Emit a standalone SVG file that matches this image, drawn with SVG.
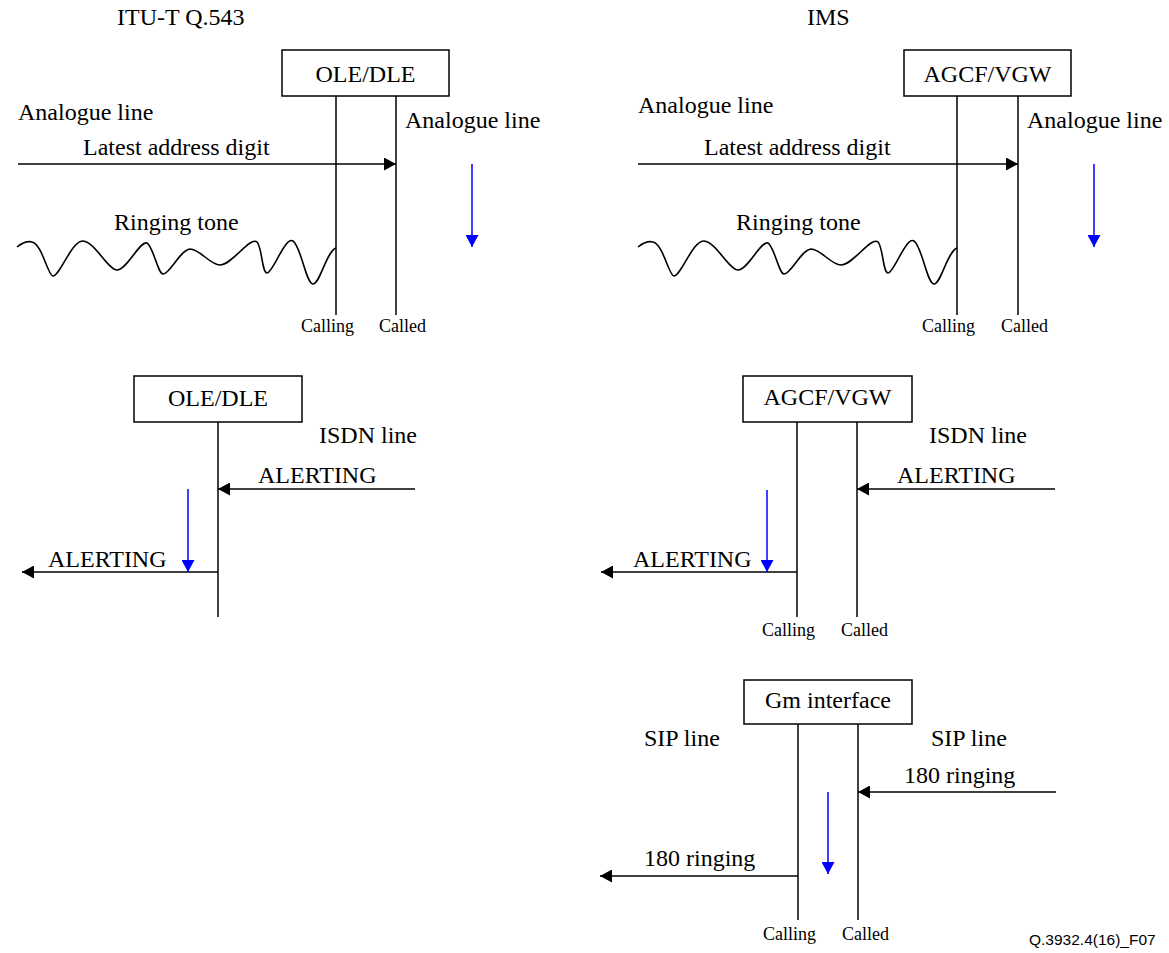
<svg xmlns="http://www.w3.org/2000/svg" width="1169" height="953" viewBox="0 0 1169 953">
  <style>
    .lbl { font-family: "Liberation Serif", "Times New Roman", serif; font-size: 24px; fill: #000; }
    .small { font-family: "Liberation Serif", "Times New Roman", serif; font-size: 18px; fill: #000; }
    .fig { font-family: "Liberation Sans", Arial, sans-serif; font-size: 15.5px; fill: #000; }
    .box { fill: #fff; stroke: #000; stroke-width: 1.5; }
    .life { stroke: #000; stroke-width: 1.5; fill: none; }
    .msg { stroke: #000; stroke-width: 1.5; fill: none; marker-end: url(#headBlack); }
    .flow { stroke: #0000ff; stroke-width: 1.5; fill: none; marker-end: url(#headBlue); }
    .wave { stroke: #000; stroke-width: 1.6; fill: none; }
  </style>
  <defs>
    <marker id="headBlack" viewBox="0 0 12 13" refX="12" refY="6.5" markerWidth="12" markerHeight="13" markerUnits="userSpaceOnUse" orient="auto">
      <path d="M0,0 L12,6.5 L0,13 Z" fill="#000"/>
    </marker>
    <marker id="headBlue" viewBox="0 0 12 13" refX="12" refY="6.5" markerWidth="12" markerHeight="13" markerUnits="userSpaceOnUse" orient="auto">
      <path d="M0,0 L12,6.5 L0,13 Z" fill="#0000ff"/>
    </marker>
    <path id="ringWave" d="M0,0 C5,-4 11,-6 15,-5 C25,-3 31,29 36,29 C43,29 55,-7 66,-6 C78,-5 91,23 100,23 C110,23 123,-7 130,-4 C136,-1 141,27 146,27 C153,27 163,3 173,2 C183,2 193,18 203,18 C215,18 233,-11 240,-5 C245,0 245,26 250,26 C256,26 268,-11 276,-6 C284,-1 289,37 296,37 C303,37 309,5 319,1"/>
  </defs>

  <!-- column headings -->
  <text class="lbl" x="117" y="25">ITU-T Q.543</text>
  <text class="lbl" x="807" y="25">IMS</text>

  <!-- ===== Analogue line, OLE/DLE ===== -->
  <g id="ole-dle-analogue">
    <rect class="box" x="282" y="50" width="167" height="46"/>
    <text class="lbl" x="365.5" y="82" text-anchor="middle">OLE/DLE</text>
    <line class="life" x1="336" y1="96" x2="336" y2="315"/>
    <line class="life" x1="396" y1="96" x2="396" y2="315"/>
    <text class="small" x="301" y="332">Calling</text>
    <text class="small" x="379" y="332">Called</text>
  </g>
  <text class="lbl" x="18" y="120">Analogue line</text>
  <text class="lbl" x="405" y="128">Analogue line</text>
  <text class="lbl" x="83" y="155">Latest address digit</text>
  <text class="lbl" x="114" y="230">Ringing tone</text>

  <!-- ===== Analogue line, AGCF/VGW ===== -->
  <g id="agcf-vgw-analogue">
    <rect class="box" x="904" y="50" width="167" height="46"/>
    <text class="lbl" x="987.5" y="82" text-anchor="middle">AGCF/VGW</text>
    <line class="life" x1="957" y1="96" x2="957" y2="315"/>
    <line class="life" x1="1018" y1="96" x2="1018" y2="315"/>
    <text class="small" x="922" y="332">Calling</text>
    <text class="small" x="1001" y="332">Called</text>
  </g>
  <text class="lbl" x="638" y="113">Analogue line</text>
  <text class="lbl" x="1027" y="128">Analogue line</text>
  <text class="lbl" x="704" y="155">Latest address digit</text>
  <text class="lbl" x="736" y="230">Ringing tone</text>

  <!-- ===== ISDN line, OLE/DLE ===== -->
  <g id="ole-dle-isdn">
    <rect class="box" x="134" y="376" width="168" height="46"/>
    <text class="lbl" x="218" y="406" text-anchor="middle">OLE/DLE</text>
    <line class="life" x1="218" y1="422" x2="218" y2="617"/>
  </g>
  <text class="lbl" x="319" y="443">ISDN line</text>
  <text class="lbl" x="258" y="483">ALERTING</text>
  <text class="lbl" x="48" y="567">ALERTING</text>

  <!-- ===== ISDN line, AGCF/VGW ===== -->
  <g id="agcf-vgw-isdn">
    <rect class="box" x="743" y="376" width="169" height="46"/>
    <text class="lbl" x="827.5" y="405" text-anchor="middle">AGCF/VGW</text>
    <line class="life" x1="797" y1="422" x2="797" y2="617"/>
    <line class="life" x1="857" y1="422" x2="857" y2="617"/>
    <text class="small" x="762" y="636">Calling</text>
    <text class="small" x="841" y="636">Called</text>
  </g>
  <text class="lbl" x="929" y="443">ISDN line</text>
  <text class="lbl" x="897" y="483">ALERTING</text>
  <text class="lbl" x="633" y="567">ALERTING</text>

  <!-- ===== SIP line, Gm interface ===== -->
  <g id="gm-interface">
    <rect class="box" x="744" y="680" width="168" height="44"/>
    <text class="lbl" x="828" y="708" text-anchor="middle">Gm interface</text>
    <line class="life" x1="798" y1="724" x2="798" y2="920"/>
    <line class="life" x1="858" y1="724" x2="858" y2="920"/>
    <text class="small" x="763" y="940">Calling</text>
    <text class="small" x="842" y="940">Called</text>
  </g>
  <text class="lbl" x="644" y="746">SIP line</text>
  <text class="lbl" x="931" y="746">SIP line</text>
  <text class="lbl" x="904" y="783">180 ringing</text>
  <text class="lbl" x="644" y="866">180 ringing</text>

  <!-- connectors -->
  <g id="connectors">
    <!-- digit messages -->
    <line class="msg" x1="18" y1="164" x2="396" y2="164"/>
    <line class="msg" x1="638" y1="164" x2="1018" y2="164"/>
    <!-- ringing tone towards calling side -->
    <use href="#ringWave" class="wave" x="17" y="247"/>
    <use href="#ringWave" class="wave" x="638" y="247"/>
    <!-- ISDN alerting -->
    <line class="msg" x1="415" y1="489" x2="218" y2="489"/>
    <line class="msg" x1="218" y1="572" x2="22" y2="572"/>
    <line class="msg" x1="1055" y1="489" x2="857" y2="489"/>
    <line class="msg" x1="797" y1="572" x2="601" y2="572"/>
    <!-- SIP 180 ringing -->
    <line class="msg" x1="1056" y1="792" x2="858" y2="792"/>
    <line class="msg" x1="798" y1="876" x2="600" y2="876"/>
    <!-- sequence direction -->
    <line class="flow" x1="472" y1="164" x2="472" y2="247"/>
    <line class="flow" x1="1094" y1="164" x2="1094" y2="247"/>
    <line class="flow" x1="188" y1="489" x2="188" y2="572"/>
    <line class="flow" x1="767" y1="490" x2="767" y2="572"/>
    <line class="flow" x1="828" y1="792" x2="828" y2="874"/>
  </g>

  <text class="fig" x="1029" y="945">Q.3932.4(16)_F07</text>
</svg>
